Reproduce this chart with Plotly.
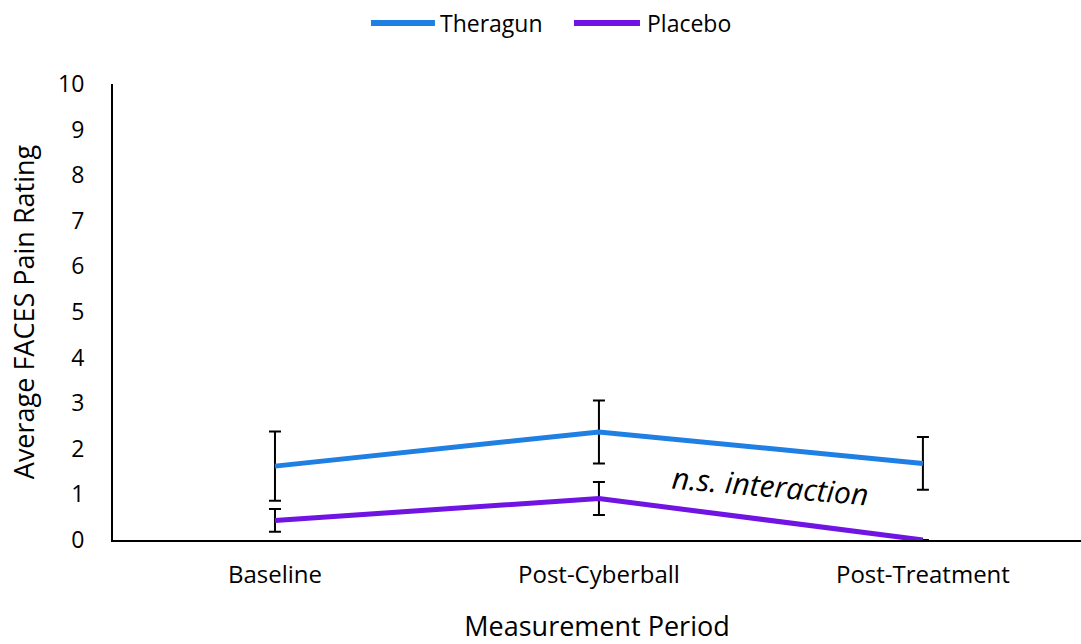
import plotly.graph_objects as go

categories = ["Baseline", "Post-Cyberball", "Post-Treatment"]
theragun = [1.62, 2.37, 1.68]
theragun_err = [0.76, 0.69, 0.58]
placebo = [0.43, 0.91, 0.0]
placebo_err = [0.25, 0.36, 0.0]
y_ticks = list(range(0, 11))
series_names = ["Theragun", "Placebo"]
series_colors = ["#1f7fe2", "#7014e3"]

FONT = "Open Sans, sans-serif"

fig = go.Figure()
fig.add_trace(go.Scatter(
    x=categories, y=theragun, name=series_names[0], mode="lines",
    line=dict(color=series_colors[0], width=5),
    error_y=dict(type="data", array=theragun_err, visible=True,
                 color="black", thickness=2, width=6),
    showlegend=False,
))
fig.add_trace(go.Scatter(
    x=categories, y=placebo, name=series_names[1], mode="lines",
    line=dict(color=series_colors[1], width=5),
    error_y=dict(type="data", array=[e if e > 0 else None for e in placebo_err], visible=True,
                 color="black", thickness=2, width=6),
    showlegend=False,
))

# custom legend (long line swatches like the reference)
legend_pos = [(0.2665, 0.3326, 0.3357), (0.4762, 0.5444, 0.5496)]
for (x0, x1, xt), name, col in zip(legend_pos, series_names, series_colors):
    fig.add_shape(type="line", xref="paper", yref="paper", x0=x0, x1=x1,
                  y0=1.134, y1=1.134, line=dict(color=col, width=6))
    fig.add_annotation(x=xt, y=1.134, xref="paper", yref="paper", text=name,
                       showarrow=False, xanchor="left", yanchor="middle",
                       font=dict(family=FONT, size=23, color="black"))

fig.add_annotation(
    x=1.528, y=1.2, xref="x", yref="y", text="<i>n.s. interaction</i>",
    showarrow=False, textangle=5, font=dict(family=FONT, size=30, color="black"),
)

fig.update_layout(
    width=1081, height=644,
    paper_bgcolor="white", plot_bgcolor="white",
    margin=dict(l=113, r=0, t=84, b=104),
    font=dict(family=FONT, color="black"),
    showlegend=False,
    xaxis=dict(
        type="category", range=[-0.5, 2.488],
        showline=True, linecolor="black", linewidth=2,
        showgrid=False, ticks="", tickfont=dict(size=24), ticklabelstandoff=12,
        title=dict(text="Measurement Period", font=dict(size=27), standoff=33),
        zeroline=False,
    ),
    yaxis=dict(
        range=[0, 10], tickvals=y_ticks,
        showline=True, linecolor="black", linewidth=2,
        showgrid=False, ticks="", tickfont=dict(size=23), ticklabelstandoff=22,
        title=dict(text="Average FACES Pain Rating", font=dict(size=27), standoff=16),
        zeroline=False,
    ),
)

fig.write_html("out.html")
